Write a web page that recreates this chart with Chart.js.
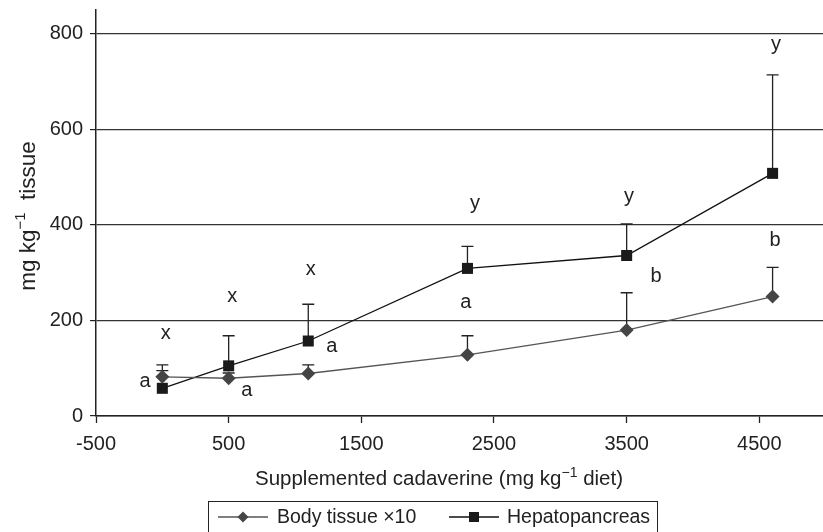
<!DOCTYPE html>
<html>
<head>
<meta charset="utf-8">
<script src="https://cdn.jsdelivr.net/npm/chart.js@4/dist/chart.umd.min.js"></script>
<style>
html, body { margin: 0; padding: 0; background: #fff; }
#wrap { width: 823px; height: 532px; position: relative; }
</style>
</head>
<body>
<div id="wrap"><canvas id="myChart" width="823" height="532"></canvas></div>
<script>
// values
const doses = [0, 500, 1100, 2300, 3500, 4600];
const body_tissue = [82, 79, 89, 128, 180, 250];
const body_tissue_upper = [107, 90, 107, 168, 258, 311];
const hepato = [58, 105, 157, 309, 336, 508];
const hepato_upper = [95, 168, 234, 355, 402, 714];

const x_ticks = [-500, 500, 1500, 2500, 3500, 4500];
const y_ticks = [0, 200, 400, 600, 800];

// axis titles, split so the "-1" can be set as a superscript
const x_title = ['Supplemented cadaverine (mg kg', '\u22121', ' diet)'];
const y_title = ['mg kg', '\u22121', '  tissue'];

// significance letters (data coords)
const letters = ['x', 'x', 'x', 'y', 'y', 'y', 'a', 'a', 'a', 'a', 'b', 'b'];
const letter_x = [25, 527, 1118, 2357, 3518, 4626, -131, 636, 1277, 2287, 3721, 4618];
const letter_y = [172, 250, 306, 445, 459, 777, 72, 54, 145, 238, 292, 367];

const FONT = '"Liberation Sans", Arial, Helvetica, sans-serif';
const ctx = document.getElementById('myChart').getContext('2d');

const errorBars = {
    id: 'errorBars',
    beforeDatasetsDraw(chart) {
        const xs = chart.scales.x, ys = chart.scales.y;
        const c = chart.ctx;
        c.save();
        c.strokeStyle = '#222';
        c.lineWidth = 1.3;
        chart.data.datasets.forEach(ds => {
            ds.upper.forEach((u, i) => {
                const px = xs.getPixelForValue(doses[i]);
                const py0 = ys.getPixelForValue(ds.data[i].y);
                const py1 = ys.getPixelForValue(u);
                c.beginPath();
                c.moveTo(px, py0);
                c.lineTo(px, py1);
                c.moveTo(px - 6, py1);
                c.lineTo(px + 6, py1);
                c.stroke();
            });
        });
        c.restore();
    }
};

const letterLabels = {
    id: 'letterLabels',
    afterDatasetsDraw(chart) {
        const xs = chart.scales.x, ys = chart.scales.y;
        const c = chart.ctx;
        c.save();
        c.font = '20px ' + FONT;
        c.fillStyle = '#222';
        c.textAlign = 'center';
        c.textBaseline = 'middle';
        letters.forEach((t, i) => {
            c.fillText(t, xs.getPixelForValue(letter_x[i]), ys.getPixelForValue(letter_y[i]));
        });
        c.restore();
    }
};

// text with a superscript in the middle part, centred on (cx, cy)
function supText(c, parts, size, cx, cy, rot) {
    const supSize = Math.round(size * 0.68);
    const big = size + 'px ' + FONT, small = supSize + 'px ' + FONT;
    c.font = big;
    const w0 = c.measureText(parts[0]).width;
    const w2 = c.measureText(parts[2]).width;
    c.font = small;
    const w1 = c.measureText(parts[1]).width;
    const total = w0 + w1 + w2;
    c.save();
    c.translate(cx, cy);
    c.rotate(rot);
    c.fillStyle = '#222';
    c.textBaseline = 'alphabetic';
    c.textAlign = 'left';
    const base = size * 0.35;
    let x = -total / 2;
    c.font = big;
    c.fillText(parts[0], x, base);
    x += w0;
    c.font = small;
    c.fillText(parts[1], x, base - size * 0.42);
    x += w1;
    c.font = big;
    c.fillText(parts[2], x, base);
    c.restore();
}

const axisTitles = {
    id: 'axisTitles',
    afterDraw(chart) {
        const c = chart.ctx;
        supText(c, x_title, 20.5, 439, 478, 0);
        supText(c, y_title, 22.5, 27, 216, -Math.PI / 2);
    }
};

function legendMarker(c, style, cx, cy) {
    c.beginPath();
    c.moveTo(cx - 25, cy);
    c.lineTo(cx + 25, cy);
    c.stroke();
    c.beginPath();
    if (style === 'rectRot') {
        c.moveTo(cx, cy - 5.5);
        c.lineTo(cx + 5.5, cy);
        c.lineTo(cx, cy + 5.5);
        c.lineTo(cx - 5.5, cy);
        c.closePath();
    } else {
        c.rect(cx - 5, cy - 5, 10, 10);
    }
    c.fill();
}

const boxLegend = {
    id: 'boxLegend',
    afterDraw(chart) {
        const c = chart.ctx;
        c.save();
        c.strokeStyle = '#222';
        c.lineWidth = 1;
        c.strokeRect(208.5, 501.5, 449, 40);
        c.font = '19.5px ' + FONT;
        c.textBaseline = 'middle';
        c.textAlign = 'left';
        const items = [
            { ds: chart.data.datasets[0], cx: 243, tx: 277 },
            { ds: chart.data.datasets[1], cx: 474, tx: 507 }
        ];
        items.forEach(it => {
            c.strokeStyle = it.ds.borderColor;
            c.fillStyle = it.ds.backgroundColor;
            c.lineWidth = 1.3;
            legendMarker(c, it.ds.pointStyle, it.cx, 517);
            c.fillStyle = '#222';
            c.fillText(it.ds.label, it.tx, 518);
        });
        c.restore();
    }
};

const chart = new Chart(ctx, {
    type: 'line',
    data: {
        datasets: [{
            label: 'Body tissue \u00d710',
            data: doses.map((d, i) => ({ x: d, y: body_tissue[i] })),
            upper: body_tissue_upper,
            borderColor: '#555',
            backgroundColor: '#454545',
            borderWidth: 1.3,
            pointStyle: 'rectRot',
            pointRadius: 7,
            pointBorderWidth: 0,
            pointHoverRadius: 7,
            tension: 0
        }, {
            label: 'Hepatopancreas',
            data: doses.map((d, i) => ({ x: d, y: hepato[i] })),
            upper: hepato_upper,
            borderColor: '#111',
            backgroundColor: '#1a1a1a',
            borderWidth: 1.3,
            pointStyle: 'rect',
            pointRadius: 7.8,
            pointBorderWidth: 0,
            pointHoverRadius: 7.8,
            tension: 0
        }]
    },
    options: {
        responsive: false,
        animation: false,
        devicePixelRatio: 1,
        layout: { autoPadding: false, padding: { left: 0, right: 0, top: 10, bottom: 32 } },
        plugins: {
            legend: { display: false },
            tooltip: { enabled: false }
        },
        scales: {
            x: {
                type: 'linear',
                min: -500,
                max: 4980,
                afterBuildTicks: s => { s.ticks = x_ticks.map(v => ({ value: v })); },
                afterFit: s => {
                    s.height = 84;
                    s.paddingLeft = 0;
                    s.paddingRight = 0;
                },
                ticks: {
                    font: { family: FONT, size: 20 },
                    color: '#222',
                    padding: 9,
                    maxRotation: 0,
                    autoSkip: false,
                    callback: v => String(v)
                },
                grid: {
                    drawOnChartArea: false,
                    drawTicks: true,
                    tickLength: 7,
                    tickColor: '#222',
                    tickWidth: 1.3
                },
                border: { color: '#222', width: 1.5 }
            },
            y: {
                min: 0,
                max: 850,
                afterBuildTicks: s => { s.ticks = y_ticks.map(v => ({ value: v })); },
                afterFit: s => {
                    s.width = 96;
                    s.paddingTop = 0;
                    s.paddingBottom = 0;
                },
                ticks: {
                    font: { family: FONT, size: 20 },
                    color: '#222',
                    padding: 7,
                    callback: v => String(v)
                },
                grid: {
                    color: '#333',
                    lineWidth: 1.2,
                    drawTicks: true,
                    tickLength: 6,
                    tickColor: '#222'
                },
                border: { color: '#222', width: 1.5 }
            }
        }
    },
    plugins: [errorBars, letterLabels, axisTitles, boxLegend]
});
</script>
</body>
</html>
